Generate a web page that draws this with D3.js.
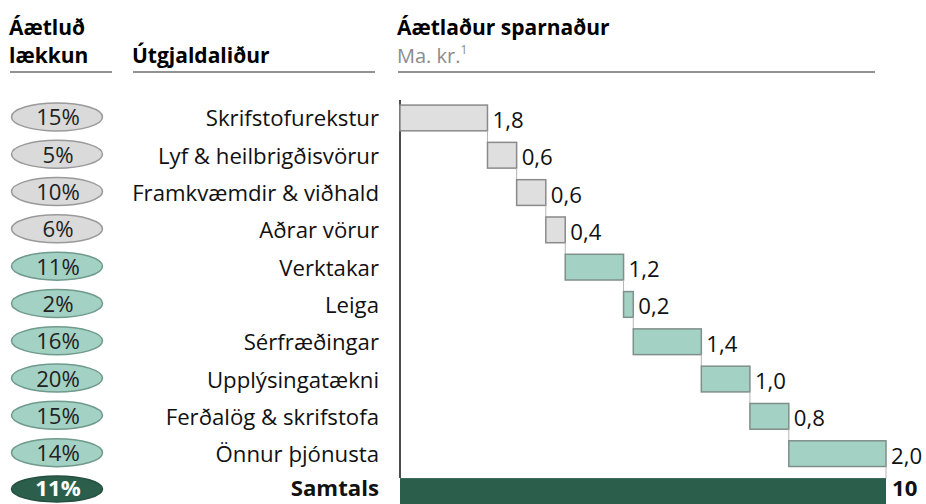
<!DOCTYPE html>
<html>
<head>
<meta charset="utf-8">
<script src="https://cdn.jsdelivr.net/npm/d3@7"></script>
<style>
  body { margin: 0; background: #fff; }
  text { font-family: "Open Sans", "Noto Sans", sans-serif; }
</style>
</head>
<body>
<svg id="svg"></svg>
<script>
var breidd = 926;
var haed = 504;

// gogn
var flokkar = ["Skrifstofurekstur", "Lyf & heilbrigðisvörur", "Framkvæmdir & viðhald", "Aðrar vörur",
    "Verktakar", "Leiga", "Sérfræðingar", "Upplýsingatækni", "Ferðalög & skrifstofa", "Önnur þjónusta"];
var laekkun = [15, 5, 10, 6, 11, 2, 16, 20, 15, 14];
var sparnadur = [1.8, 0.6, 0.6, 0.4, 1.2, 0.2, 1.4, 1.0, 0.8, 2.0];
var hopur = ["grar", "grar", "grar", "grar", "graenn", "graenn", "graenn", "graenn", "graenn", "graenn"];
var samtalsHeiti = "Samtals";
var samtalsLaekkun = 11;
var samtalsSparnadur = 10;

var litir = {
    grar: { fill: "#dedfde", stroke: "#8a8a8a", ellFill: "#d9dad9", ellStroke: "#9a9a9a" },
    graenn: { fill: "#a3d1c4", stroke: "#7f8f89", ellFill: "#a3d1c4", ellStroke: "#6f9a8c" },
    samtals: { fill: "#2b5f4c", ellFill: "#2b5f4c", ellStroke: "#244f40" }
};

var letur = 22.2;

function tala(v) {
    return v.toFixed(1).replace(".", ",");
}

function draw() {
    var svg = d3.select("#svg");
    svg.attr("width", breidd).attr("height", haed);

    var allir = flokkar.concat([samtalsHeiti]);

    var x = d3.scaleLinear().domain([0, samtalsSparnadur]).range([400, 886]);
    var y = d3.scaleBand().domain(allir).range([99.3, 99.3 + 37.3 * allir.length]).paddingInner(0.31).paddingOuter(0.155);

    drawHeader(svg);
    drawRows(svg, allir, y);
    drawBars(svg, x, y);
}

function drawHeader(svg) {
    var g = svg.append("g");
    g.append("text").attr("x", 9).attr("y", 35).attr("font-size", 21).attr("font-weight", "bold").text("Áætluð");
    g.append("text").attr("x", 9).attr("y", 63).attr("font-size", 21).attr("font-weight", "bold").text("lækkun");
    g.append("text").attr("x", 132).attr("y", 63).attr("font-size", 21).attr("font-weight", "bold").text("Útgjaldaliður");
    g.append("text").attr("x", 397).attr("y", 35).attr("font-size", 21).attr("font-weight", "bold").text("Áætlaður sparnaður");
    var mk = g.append("text").attr("x", 397).attr("y", 63).attr("font-size", 20).attr("fill", "#8c8c8c").text("Ma. kr.");
    mk.append("tspan").attr("font-size", 12).attr("dy", -9).text("1");

    var linur = [[10, 112], [133, 375], [398, 875]];
    linur.forEach(function (l) {
        g.append("line")
            .attr("x1", l[0]).attr("x2", l[1])
            .attr("y1", 72).attr("y2", 72)
            .style("stroke", "#6e6e6e")
            .style("stroke-width", "1.5px");
    });
}

function drawRows(svg, allir, y) {
    allir.forEach(function (nafn, i) {
        var samtals = i === allir.length - 1;
        var cy = y(nafn) + y.bandwidth() / 2 - (samtals ? 2 : 1);
        var lit = samtals ? litir.samtals : litir[hopur[i]];
        var pct = samtals ? samtalsLaekkun : laekkun[i];

        svg.append("ellipse")
            .attr("cx", 57).attr("cy", cy)
            .attr("rx", 45.5).attr("ry", samtals ? 13 : 14)
            .style("fill", lit.ellFill)
            .style("stroke", lit.ellStroke)
            .style("stroke-width", "1.5px");

        svg.append("text")
            .attr("x", 58).attr("y", cy + (samtals ? 7.5 : 8.5))
            .attr("text-anchor", "middle")
            .attr("font-size", letur)
            .attr("font-weight", samtals ? "bold" : "normal")
            .attr("fill", samtals ? "#fff" : "#222")
            .text(pct + "%");

        svg.append("text")
            .attr("x", 379).attr("y", cy + (samtals ? 7.5 : 9.5))
            .attr("text-anchor", "end")
            .attr("font-size", letur)
            .attr("font-weight", samtals ? "bold" : "normal")
            .attr("fill", "#111")
            .text(nafn);
    });
}

function drawBars(svg, x, y) {
    var summa = 0;
    var bw = y.bandwidth();

    // asinn
    svg.append("line")
        .attr("x1", x(0)).attr("x2", x(0))
        .attr("y1", 100).attr("y2", y(samtalsHeiti))
        .style("stroke", "#111")
        .style("stroke-width", "1.5px");

    flokkar.forEach(function (nafn, i) {
        var byrjun = summa;
        summa += sparnadur[i];
        var lit = litir[hopur[i]];
        var top = y(nafn);

        svg.append("rect")
            .attr("x", x(byrjun)).attr("y", top)
            .attr("width", x(summa) - x(byrjun)).attr("height", bw)
            .style("fill", lit.fill)
            .style("stroke", lit.stroke)
            .style("stroke-width", "1.5px");

        // tenging nidur i naesta
        var naesti = i < flokkar.length - 1 ? y(flokkar[i + 1]) : y(samtalsHeiti);
        svg.append("line")
            .attr("x1", x(summa)).attr("x2", x(summa))
            .attr("y1", top + bw).attr("y2", naesti)
            .style("stroke", "#b5b5b5")
            .style("stroke-width", "1px");

        svg.append("text")
            .attr("x", x(summa) + 5).attr("y", top + bw / 2 + 10)
            .attr("font-size", letur)
            .attr("fill", "#111")
            .text(tala(sparnadur[i]));
    });

    var st = y(samtalsHeiti);
    svg.append("rect")
        .attr("x", x(0)).attr("y", st)
        .attr("width", x(samtalsSparnadur) - x(0)).attr("height", haed - st + 2)
        .style("fill", litir.samtals.fill);

    svg.append("text")
        .attr("x", x(samtalsSparnadur) + 6).attr("y", st + bw / 2 + 5.5)
        .attr("font-size", letur)
        .attr("font-weight", "bold")
        .attr("fill", "#111")
        .text(samtalsSparnadur);
}

draw();
</script>
</body>
</html>
